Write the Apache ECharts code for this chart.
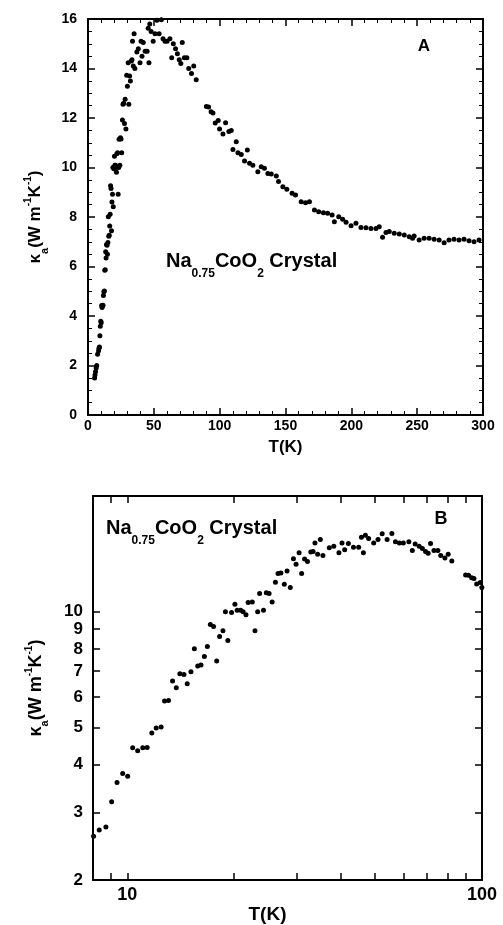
<!DOCTYPE html>
<html><head><meta charset="utf-8">
<script src="https://cdn.jsdelivr.net/npm/echarts@6/dist/echarts.min.js"></script>
<style>html,body{margin:0;padding:0;background:#fff}#c{width:503px;height:925px}</style>
</head><body><div id="c"></div>
<script>
// ---- data (T in K, kappa_a in W m^-1 K^-1) ----
const tempLow  = [5.0, 5.3, 5.7, 6.2, 6.6, 7.3];
const kappaLow = [1.50, 1.62, 1.75, 1.90, 2.00, 2.45];

const tempMid = [8.03,8.33,8.70,9.03,9.35,9.70,10.02,10.35,10.69,11.05,11.37,11.72,12.06,12.45,12.73,13.06,13.41,13.74,14.06,14.44,14.75,15.11,15.45,15.79,16.13,16.49,16.81,17.14,17.5,17.86,18.2,18.6,18.9,19.2,19.67,20.1,20.4,20.87,21.2,21.6,21.9,22.5,22.9,23.3,23.6,24.2,24.65,25.1,25.6,26.15,26.6,27.1,27.7,28.2,28.8,29.4,29.9,30.5,31.0,31.6,32.2,32.9,33.4,33.8,34.4,35.0,35.6,37.1,38.2,39.5,40.3,41.0,42.0,43.4,44.9,45.7,46.3,46.9,47.9,49.5,50.9,52.3,54.0,55.7,57.0,58.5,60.0,62.2,63.6,64.8,66.5,67.9,69.3,70.5,71.6,73.2,75.1,76.5,78.6,80.3,82.2,89.9,91.6,93.5,94.9,96.6,98.9,99.9];
const kappaMid = [2.60,2.70,2.75,3.20,3.59,3.79,3.73,4.42,4.34,4.42,4.43,4.83,4.98,5.01,5.85,5.87,6.60,6.34,6.89,6.86,6.49,6.97,8.01,7.22,7.26,7.64,8.11,9.26,9.15,7.44,8.61,8.92,10.0,8.41,9.95,10.45,10.09,10.09,10.0,9.81,10.56,10.6,8.92,10.0,11.14,10.09,11.2,11.15,10.6,11.92,12.56,12.6,11.78,12.76,11.56,13.73,13.28,14.23,12.56,13.7,13.5,14.3,14.35,15.1,14.1,15.4,14.0,14.67,14.8,14.23,15.1,14.5,15.05,14.7,14.7,15.63,14.23,15.8,15.5,15.1,15.4,15.95,15.4,15.97,15.2,15.1,15.1,15.2,14.43,15.0,14.8,14.6,14.35,14.2,15.05,14.43,14.43,14.0,13.8,14.1,13.55,12.46,12.44,12.25,12.2,11.8,11.9,11.56];

const tempHigh = [102.5,104.5,107,108.8,110.1,112.6,113.9,116.4,118.9,121,122.7,125.2,129,131.6,134,136.6,139.2,143,144.7,148,151,155,157.6,161.9,165.2,168.2,172,175.2,178.8,182,185.4,187.1,190.4,193.4,196,199.8,203.5,207.3,211.1,214.9,218.7,221.2,223.7,226.3,228.8,232.6,236.4,240.2,244,246.5,247.7,251.5,255.3,259.1,262.9,266.7,270.5,274.2,278,281.8,285.6,289.4,293.2,297];
const kappaHigh = [11.35,11.81,11.45,11.49,10.73,11.04,10.6,10.53,10.26,10.71,10.17,10.09,9.83,10.03,9.97,9.76,9.74,9.66,9.43,9.22,9.12,8.96,8.89,8.62,8.58,8.62,8.28,8.21,8.17,8.15,8.08,7.81,8.01,7.91,7.79,7.65,7.75,7.58,7.57,7.54,7.54,7.61,7.18,7.37,7.41,7.34,7.31,7.27,7.2,7.14,7.23,7.07,7.14,7.14,7.1,7.07,6.96,7.07,7.1,7.07,7.1,7.04,7.0,7.07];

// ---- tick values ----
const ticksBx = [10, 100];
const ticksBy = [2, 3, 4, 5, 6, 7, 8, 9, 10];
const minorBx = [8, 9, 10, 20, 30, 40, 50, 60, 70, 80, 90, 100];
const minorBy = [2, 3, 4, 5, 6, 7, 8, 9, 10, 20];

const zip = (a, b) => a.map((v, i) => [v, b[i]]);
const dataA = [].concat(zip(tempLow, kappaLow), zip(tempMid, kappaMid), zip(tempHigh, kappaHigh));
const dataB = zip(tempMid, kappaMid);

const FF = 'Liberation Sans, Arial, Helvetica, sans-serif';
const BLACK = '#000';
const line = { show: true, onZero: false, lineStyle: { color: BLACK, width: 2 } };
const tick = { show: true, inside: true, length: 7, lineStyle: { color: BLACK, width: 1.5 } };
const minor = (n) => ({ show: true, splitNumber: n, length: 4, lineStyle: { color: BLACK, width: 1 } });
const lbl = (fs, m) => ({ color: BLACK, fontFamily: FF, fontWeight: 'bold', fontSize: fs, margin: m, hideOverlap: false });

const yTitleRich = (fs) => ({
  m: { fontFamily: FF, fontWeight: 'bold', fontSize: fs, lineHeight: fs, color: BLACK },
  s: { fontFamily: FF, fontWeight: 'bold', fontSize: 11, lineHeight: 11, padding: [18, 0, 0, 0], color: BLACK },
  p: { fontFamily: FF, fontWeight: 'bold', fontSize: 10, lineHeight: 10, padding: [0, 0, 14, 0], color: BLACK }
});
const yTitle = '{m|κ}{s|a}{m|(W m}{p|-1}{m|K}{p|-1}{m|)}';

const annRich = {
  b: { fontFamily: FF, fontWeight: 'bold', fontSize: 20, lineHeight: 20, fill: BLACK },
  s: { fontFamily: FF, fontWeight: 'bold', fontSize: 12, lineHeight: 12, padding: [25, 0, 0, 0], fill: BLACK }
};
const annText = '{b|Na}{s|0.75}{b|CoO}{s|2}{b| Crystal}';

const chart = echarts.init(document.getElementById('c'), null, { renderer: 'canvas' });
chart.setOption({
  animation: false,
  backgroundColor: '#fff',
  grid: [
    { left: 88, top: 19, width: 395, height: 396 },
    { left: 93, top: 496, width: 389, height: 388 }
  ],
  xAxis: [
    { gridIndex: 0, type: 'value', min: 0, max: 300, interval: 50, position: 'bottom',
      axisLine: line, axisTick: tick, minorTick: minor(5), splitLine: { show: false },
      axisLabel: lbl(14, 4),
      name: 'T(K)', nameLocation: 'middle', nameGap: 24,
      nameTextStyle: { color: BLACK, fontFamily: FF, fontWeight: 'bold', fontSize: 17 } },
    { gridIndex: 0, type: 'value', min: 0, max: 300, interval: 50, position: 'top',
      axisLine: line, axisTick: tick, minorTick: minor(5), splitLine: { show: false },
      axisLabel: { show: false } },
    { gridIndex: 1, type: 'log', logBase: 10, min: 8, max: 100, position: 'bottom',
      axisLine: line,
      axisTick: Object.assign({}, tick, { customValues: minorBx }),
      splitLine: { show: false },
      axisLabel: Object.assign(lbl(18, 6), { customValues: ticksBx, formatter: v => String(Math.round(v)) }),
      name: 'T(K)', nameLocation: 'middle', nameGap: 18,
      nameTextStyle: { color: BLACK, fontFamily: FF, fontWeight: 'bold', fontSize: 19, padding: [0, 40, 0, 0] } },
    { gridIndex: 1, type: 'log', logBase: 10, min: 8, max: 100, position: 'top',
      axisLine: line,
      axisTick: Object.assign({}, tick, { customValues: minorBx }),
      splitLine: { show: false }, axisLabel: { show: false } }
  ],
  yAxis: [
    { gridIndex: 0, type: 'value', min: 0, max: 16, interval: 2, position: 'left',
      axisLine: line, axisTick: tick, minorTick: minor(4), splitLine: { show: false },
      axisLabel: lbl(14, 11),
      name: yTitle, nameLocation: 'middle', nameGap: 44,
      nameTextStyle: { rich: yTitleRich(17) } },
    { gridIndex: 0, type: 'value', min: 0, max: 16, interval: 2, position: 'right',
      axisLine: line, axisTick: tick, minorTick: minor(4), splitLine: { show: false },
      axisLabel: { show: false } },
    { gridIndex: 1, type: 'log', logBase: 10, min: 2, max: 20, position: 'left',
      axisLine: line,
      axisTick: Object.assign({}, tick, { customValues: minorBy }),
      splitLine: { show: false },
      axisLabel: Object.assign(lbl(17, 10), { customValues: ticksBy, formatter: v => String(Math.round(v)) }),
      name: yTitle, nameLocation: 'middle', nameGap: 48,
      nameTextStyle: { rich: yTitleRich(18) } },
    { gridIndex: 1, type: 'log', logBase: 10, min: 2, max: 20, position: 'right',
      axisLine: line,
      axisTick: Object.assign({}, tick, { customValues: minorBy }),
      splitLine: { show: false }, axisLabel: { show: false } }
  ],
  series: [
    { type: 'scatter', xAxisIndex: 0, yAxisIndex: 0, data: dataA, symbol: 'circle', symbolSize: 5,
      itemStyle: { color: BLACK, opacity: 1 } },
    { type: 'scatter', xAxisIndex: 2, yAxisIndex: 2, data: dataB, symbol: 'circle', symbolSize: 5,
      itemStyle: { color: BLACK, opacity: 1 } }
  ],
  graphic: [
    { type: 'text', x: 424, y: 46, style: { text: 'A', fill: BLACK, font: 'bold 17px ' + FF, textAlign: 'center', textVerticalAlign: 'middle' } },
    { type: 'text', x: 441, y: 519, style: { text: 'B', fill: BLACK, font: 'bold 18px ' + FF, textAlign: 'center', textVerticalAlign: 'middle' } },
    { type: 'text', x: 166, y: 261, style: { text: annText, rich: annRich, textAlign: 'left', textVerticalAlign: 'middle' } },
    { type: 'text', x: 106, y: 528, style: { text: annText, rich: annRich, textAlign: 'left', textVerticalAlign: 'middle' } }
  ]
});
</script>
</body></html>
